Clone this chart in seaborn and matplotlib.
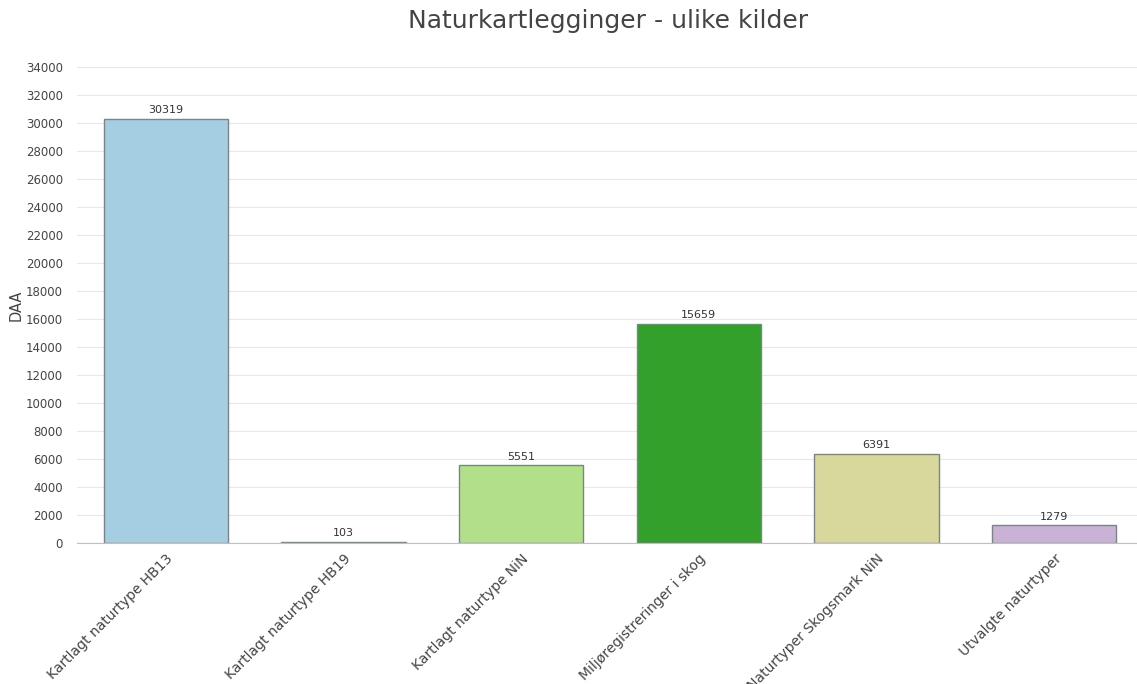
import matplotlib
matplotlib.use("Agg")
import matplotlib.pyplot as plt
import seaborn as sns
import pandas as pd

categories = [
    "Kartlagt naturtype HB13",
    "Kartlagt naturtype HB19",
    "Kartlagt naturtype NiN",
    "Miljøregistreringer i skog",
    "Naturtyper Skogsmark NiN",
    "Utvalgte naturtyper",
]
values = [30319, 103, 5551, 15659, 6391, 1279]
bar_colors = ["#a6cee3", "#6b7378", "#b2df8a", "#33a02c", "#d9d89c", "#cab2d6"]
y_ticks = list(range(0, 34001, 2000))

sns.set_style("white")
plt.rcParams["font.family"] = ["DejaVu Sans"]

df = pd.DataFrame({"kilde": categories, "daa": values})

fig = plt.figure(figsize=(11.37, 6.84), dpi=100)
# axes placed in pixel terms: left 77, right 1143, bottom 543, top 67
W, H = 1137, 684
ax = fig.add_axes([77 / W, (H - 543) / H, (1143 - 77) / W, (543 - 67) / H])

sns.barplot(data=df, x="kilde", y="daa", hue="kilde", palette=bar_colors,
            legend=False, width=0.70, edgecolor="#7a8585", linewidth=1.0,
            saturation=1, ax=ax)

for i, v in enumerate(values):
    ax.text(i, v + 250, str(v), ha="center", va="bottom", fontsize=8, color="#333333")

ax.set_ylim(0, 34000)
ax.set_yticks(y_ticks)
ax.set_yticklabels([str(t) for t in y_ticks], fontsize=8.5, color="#444444")
ax.yaxis.grid(True, color="#e8e8e8", linewidth=0.8)
ax.set_axisbelow(True)
ax.tick_params(axis="y", length=0, pad=10)
ax.tick_params(axis="x", length=4, color="#c0c0c0", pad=2)
ax.set_xticks(range(len(categories)))
ax.set_xticklabels(categories, rotation=45, ha="right", rotation_mode="anchor",
                   fontsize=10, color="#444444")
ax.set_xlabel("")
ax.set_ylabel("DAA", fontsize=10.5, color="#444444", labelpad=2)
for s in ["top", "right", "left"]:
    ax.spines[s].set_visible(False)
ax.spines["bottom"].set_color("#c0c0c0")

fig.text(0.535, 0.97, "Naturkartlegginger - ulike kilder", ha="center", va="center",
         fontsize=18, color="#444444")

fig.savefig("out.png", dpi=100)
